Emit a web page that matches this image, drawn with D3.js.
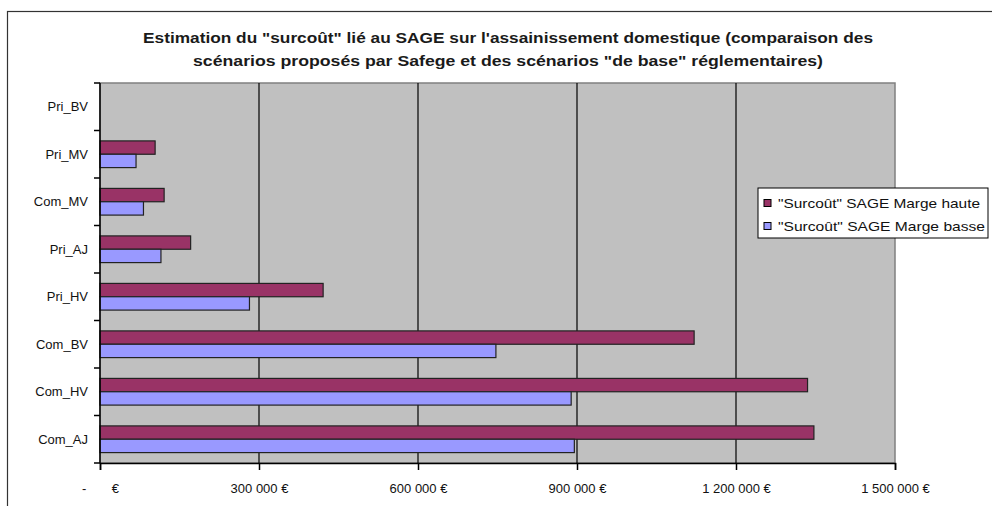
<!DOCTYPE html>
<html>
<head>
<meta charset="utf-8">
<script src="https://cdn.jsdelivr.net/npm/d3@7"></script>
<style>
  html, body { margin: 0; padding: 0; background: #fff; }
  svg { display: block; font-family: "Liberation Sans", Arial, sans-serif; }
</style>
</head>
<body>
<svg id="chart" width="992" height="506"></svg>
<script>
const titleLines = [
  "Estimation du \"surcoût\" lié au SAGE sur l'assainissement domestique (comparaison des",
  "scénarios proposés par Safege et des scénarios \"de base\" réglementaires)"
];
const categories = ["Pri_BV", "Pri_MV", "Com_MV", "Pri_AJ", "Pri_HV", "Com_BV", "Com_HV", "Com_AJ"];
const seriesNames = ["\"Surcoût\" SAGE Marge haute", "\"Surcoût\" SAGE Marge basse"];
const margeHaute = [0, 104000, 121000, 171000, 421000, 1121000, 1335000, 1347000];
const margeBasse = [0, 68000, 82000, 115000, 282000, 747000, 889000, 895000];
const xTicks = [0, 300000, 600000, 900000, 1200000, 1500000];
const xTickLabels = ["-       €", "300 000 €", "600 000 €", "900 000 €", "1 200 000 €", "1 500 000 €"];
const colors = ["#993366", "#9999FF"];

const svg = d3.select("#chart");
const plot = { left: 100, right: 895, top: 83, bottom: 463 };

// outer chart border
svg.append("rect").attr("x", 7.5).attr("y", 11.5).attr("width", 1000).attr("height", 600)
  .attr("fill", "#fff").attr("stroke", "#333").attr("stroke-width", 1.2);

// title
const titleWidths = [730, 630];
svg.append("g").selectAll("text").data(titleLines).join("text")
  .attr("x", 508).attr("y", (d, i) => 43 + i * 23)
  .attr("text-anchor", "middle")
  .attr("font-size", 15).attr("font-weight", "bold").attr("fill", "#1a1a1a")
  .attr("textLength", (d, i) => titleWidths[i]).attr("lengthAdjust", "spacingAndGlyphs")
  .text(d => d);

const x = d3.scaleLinear().domain([0, 1500000]).range([plot.left, plot.right]);
const y = d3.scaleBand().domain(categories).range([plot.top, plot.bottom]).paddingInner(0).paddingOuter(0);
const ySub = d3.scaleBand().domain([0, 1]).range([0, y.bandwidth()]).paddingOuter(0.78).paddingInner(0);

// plot background
svg.append("rect").attr("x", plot.left).attr("y", plot.top)
  .attr("width", plot.right - plot.left).attr("height", plot.bottom - plot.top)
  .attr("fill", "#C0C0C0").attr("stroke", "#808080").attr("stroke-width", 1.5);

// gridlines
svg.append("g").selectAll("line").data(xTicks.slice(1, -1)).join("line")
  .attr("x1", d => x(d)).attr("x2", d => x(d))
  .attr("y1", plot.top).attr("y2", plot.bottom)
  .attr("stroke", "#000").attr("stroke-width", 1.2);

// bars
const series = [margeHaute, margeBasse];
series.forEach((vals, si) => {
  svg.append("g").selectAll("rect").data(categories.map((c, i) => ({ c, v: vals[i] })).filter(d => d.v > 0))
    .join("rect")
    .attr("x", x(0))
    .attr("y", d => y(d.c) + ySub(si))
    .attr("width", d => x(d.v) - x(0))
    .attr("height", ySub.bandwidth())
    .attr("fill", colors[si])
    .attr("stroke", "#222").attr("stroke-width", 1.2);
});

// y axis
const yAxisG = svg.append("g");
yAxisG.append("line").attr("x1", plot.left).attr("x2", plot.left)
  .attr("y1", plot.top).attr("y2", plot.bottom).attr("stroke", "#000").attr("stroke-width", 1.5);
const yTickPos = categories.map(c => y(c)).concat([plot.bottom]);
yAxisG.selectAll("line.tick").data(yTickPos).join("line").attr("class", "tick")
  .attr("x1", plot.left - 6).attr("x2", plot.left).attr("y1", d => d).attr("y2", d => d)
  .attr("stroke", "#000").attr("stroke-width", 1.5);
yAxisG.selectAll("text").data(categories).join("text")
  .attr("x", 88).attr("y", d => y(d) + y.bandwidth() / 2 + 4.5)
  .attr("text-anchor", "end").attr("font-size", 13).attr("fill", "#111")
  .text(d => d);

// x axis
const xAxis = d3.axisBottom(x).tickValues(xTicks).tickSize(7).tickPadding(14)
  .tickFormat((d, i) => xTickLabels[i]);
const xg = svg.append("g").attr("transform", `translate(0,${plot.bottom})`).call(xAxis);
xg.select(".domain").attr("stroke", "#000").attr("stroke-width", 1.5);
xg.selectAll(".tick line").attr("stroke", "#000").attr("stroke-width", 1.5);
xg.selectAll(".tick text").attr("font-size", 13).attr("fill", "#111")
  .attr("font-family", "\"Liberation Sans\", Arial, sans-serif").style("white-space", "pre");

// legend
const legendWidths = [202, 207];
const lg = svg.append("g").attr("transform", "translate(758,188)");
lg.append("rect").attr("width", 230).attr("height", 50).attr("fill", "#fff").attr("stroke", "#000").attr("stroke-width", 1);
seriesNames.forEach((n, i) => {
  lg.append("rect").attr("x", 6).attr("y", 11.5 + i * 23).attr("width", 7).attr("height", 7)
    .attr("fill", colors[i]).attr("stroke", "#000").attr("stroke-width", 1);
  lg.append("text").attr("x", 20).attr("y", 20 + i * 23)
    .attr("font-size", 13).attr("fill", "#111")
    .attr("textLength", legendWidths[i]).attr("lengthAdjust", "spacingAndGlyphs")
    .text(n);
});
</script>
</body>
</html>
